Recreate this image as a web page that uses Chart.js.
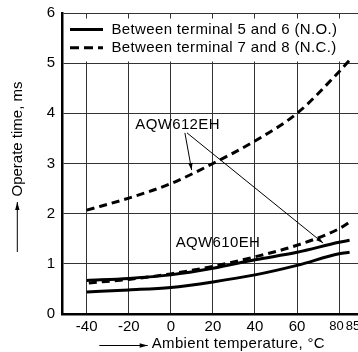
<!DOCTYPE html>
<html>
<head>
<meta charset="utf-8">
<script src="https://cdn.jsdelivr.net/npm/chart.js@4/dist/chart.umd.min.js"></script>
<style>
html,body{margin:0;padding:0;background:#fff;}
canvas{display:block;}
</style>
</head>
<body>
<canvas id="c" width="358" height="352"></canvas>
<script>
// ---- data ----
const temps612NC = [-40, -20, 0, 20, 40, 60, 80, 85];
const aqw612NC   = [2.07, 2.31, 2.6, 3.0, 3.45, 4.0, 4.83, 5.06];
const temps612NO = [-40, -20, 0, 20, 40, 60, 80, 85];
const aqw612NO   = [0.67, 0.71, 0.78, 0.91, 1.08, 1.23, 1.43, 1.47];
const temps610NC = [-39, -20, 0, 20, 40, 60, 80, 86];
const aqw610NC   = [0.62, 0.69, 0.80, 0.95, 1.14, 1.37, 1.70, 1.86];
const temps610NO = [-40, -20, 0, 20, 40, 60, 80, 85];
const aqw610NO   = [0.44, 0.48, 0.53, 0.64, 0.78, 0.97, 1.20, 1.23];
const xTickValues = [-40, -20, 0, 20, 40, 60, 80, 85];
const yTickValues = [0, 1, 2, 3, 4, 5, 6];
const legendLabels = ['Between terminal 5 and 6 (N.O.)', 'Between terminal 7 and 8 (N.C.)'];
const xTitle = 'Ambient temperature, °C';
const yTitle = 'Operate time, ms';
const label612 = 'AQW612EH';
const label610 = 'AQW610EH';

const FONT = '"Liberation Sans", Arial, Helvetica, sans-serif';
const pts = (xs, ys) => xs.map((x, i) => ({x: x, y: ys[i]}));

// annotation anchors in data units
const ann = {
  l612: {x: 3.2, y: 3.77},
  a1: {from: {x: 6.7, y: 3.61}, to: {x: 9.9, y: 2.87}},
  a2: {from: {x: 7.7, y: 3.61}, to: {x: 72.4, y: 1.415}},
  l610: {x: 22.4, y: 1.415}
};

function arrow(ctx, x1, y1, x2, y2, len, half) {
  ctx.beginPath();
  ctx.moveTo(x1, y1);
  ctx.lineTo(x2, y2);
  ctx.stroke();
  const ang = Math.atan2(y2 - y1, x2 - x1);
  ctx.beginPath();
  ctx.moveTo(x2, y2);
  ctx.lineTo(x2 - len * Math.cos(ang) + half * Math.sin(ang), y2 - len * Math.sin(ang) - half * Math.cos(ang));
  ctx.lineTo(x2 - len * Math.cos(ang) - half * Math.sin(ang), y2 - len * Math.sin(ang) + half * Math.cos(ang));
  ctx.closePath();
  ctx.fill();
}

const overlay = {
  id: 'overlay',
  beforeDatasetsDraw(chart) {
    const {ctx, chartArea: a} = chart;
    ctx.save();
    ctx.fillStyle = '#fff';
    ctx.fillRect(a.left + 2, a.top + 5.5, a.right - a.left - 2, 43);
    ctx.restore();
  },
  afterDatasetsDraw(chart) {
    const {ctx, chartArea: a} = chart;
    const xs = chart.scales.x, ys = chart.scales.y;
    ctx.save();
    ctx.fillStyle = '#000';
    ctx.strokeStyle = '#000';
    ctx.textBaseline = 'middle';
    ctx.font = '15px ' + FONT;
    try { ctx.letterSpacing = '0.35px'; } catch (e) {}

    // legend
    const ly = [a.top + 16.5, a.top + 34.7];
    ctx.lineWidth = 3;
    ctx.setLineDash([]);
    ctx.beginPath(); ctx.moveTo(a.left + 8, ly[0]); ctx.lineTo(a.left + 41, ly[0]); ctx.stroke();
    ctx.setLineDash([9, 5]);
    ctx.beginPath(); ctx.moveTo(a.left + 8, ly[1]); ctx.lineTo(a.left + 41, ly[1]); ctx.stroke();
    ctx.setLineDash([]);
    ctx.textAlign = 'left';
    ctx.fillText(legendLabels[0], a.left + 49.5, ly[0]);
    ctx.fillText(legendLabels[1], a.left + 49.5, ly[1]);

    // annotations
    const P = p => [xs.getPixelForValue(p.x), ys.getPixelForValue(p.y)];
    ctx.textAlign = 'center';
    let p = P(ann.l612);
    ctx.fillText(label612, p[0], p[1]);
    p = P(ann.l610);
    ctx.fillText(label610, p[0], p[1]);
    ctx.lineWidth = 1;
    for (const k of ['a1', 'a2']) {
      const f = P(ann[k].from), t = P(ann[k].to);
      arrow(ctx, f[0], f[1], t[0], t[1], 7, 2.2);
    }

    // x tick labels
    for (const v of xTickValues) {
      let px = xs.getPixelForValue(v);
      let size = 15;
      if (v === 80) { px -= 2.5; size = 13; }
      if (v === 85) { px += 3.5; size = 13; }
      ctx.font = size + 'px ' + FONT;
      try { ctx.letterSpacing = '0px'; } catch (e) {}
      ctx.fillText(String(v), px, a.bottom + 12.5);
    }

    // x title with arrow
    ctx.font = '15px ' + FONT;
    try { ctx.letterSpacing = '0.35px'; } catch (e) {}
    ctx.textAlign = 'left';
    const tx = a.left + 89.7, ty = a.bottom + 30;
    ctx.fillText(xTitle, tx, ty);
    ctx.lineWidth = 1;
    arrow(ctx, a.left + 37.3, ty + 1.5, tx - 4, ty + 1.5, 8, 2.2);

    // y title with arrow
    ctx.save();
    ctx.translate(17.5, 139);
    ctx.rotate(-Math.PI / 2);
    ctx.textAlign = 'center';
    try { ctx.letterSpacing = '0px'; } catch (e) {}
    ctx.fillText(yTitle, 0, 0);
    ctx.restore();
    arrow(ctx, 17.3, 252, 17.3, 202, 8, 2.2);

    ctx.restore();
  }
};

new Chart(document.getElementById('c'), {
  type: 'line',
  data: {
    datasets: [
      {data: pts(temps612NO, aqw612NO), borderColor: '#000', borderWidth: 3, pointRadius: 0, tension: 0.4, cubicInterpolationMode: 'monotone', fill: false},
      {data: pts(temps610NO, aqw610NO), borderColor: '#000', borderWidth: 3, pointRadius: 0, tension: 0.4, cubicInterpolationMode: 'monotone', fill: false},
      {data: pts(temps610NC, aqw610NC), borderColor: '#000', borderWidth: 3, borderDash: [8, 5], pointRadius: 0, tension: 0.4, cubicInterpolationMode: 'monotone', fill: false},
      {data: pts(temps612NC, aqw612NC), borderColor: '#000', borderWidth: 3, borderDash: [8, 5], pointRadius: 0, tension: 0.4, cubicInterpolationMode: 'monotone', fill: false}
    ]
  },
  options: {
    responsive: false,
    devicePixelRatio: 1,
    animation: false,
    layout: {padding: {top: 13, left: 0, right: 0, bottom: 0}},
    plugins: {legend: {display: false}, tooltip: {enabled: false}},
    scales: {
      x: {
        type: 'linear', min: -51.75, max: 89,
        afterBuildTicks: s => { s.ticks = xTickValues.filter(v => v !== 85).map(v => ({value: v})); },
        afterFit: s => { s.height = 38; },
        ticks: {display: false},
        grid: {color: '#333', lineWidth: 1, drawTicks: false},
        border: {display: true, color: '#000', width: 2.5}
      },
      y: {
        min: 0, max: 6,
        afterBuildTicks: s => { s.ticks = yTickValues.map(v => ({value: v})); },
        afterFit: s => { s.width = 62; },
        ticks: {color: '#000', font: {family: FONT, size: 15, lineHeight: 0.8}, padding: 7},
        grid: {color: '#333', lineWidth: 1, drawTicks: false},
        border: {display: true, color: '#000', width: 2.5}
      }
    }
  },
  plugins: [overlay]
});
</script>
</body>
</html>
